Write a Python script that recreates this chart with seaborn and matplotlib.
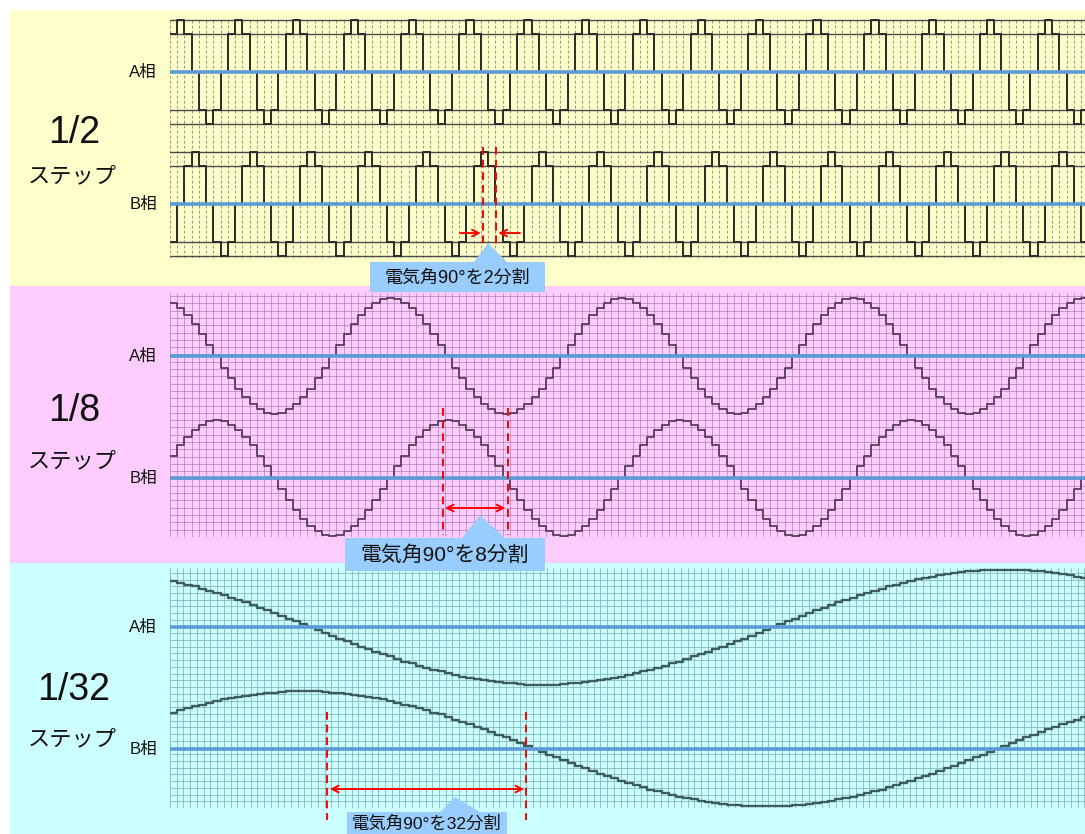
import numpy as np
import pandas as pd
import matplotlib
matplotlib.use("Agg")
import matplotlib.pyplot as plt
from matplotlib.patches import Rectangle, Polygon
import seaborn as sns

W, H = 1085, 834

# A phase over one electrical cycle, half step (8 steps / cycle)
half_step_cycle = [0.74, 1.0, 0.74, 0.0, -0.74, -1.0, -0.74, 0.0]
# quarter wave current levels, 1/8 micro step (90 deg split in 8)
eighth_quarter = [0.0, 0.20, 0.38, 0.56, 0.71, 0.83, 0.92, 0.98, 1.0]
# quarter wave current levels, 1/32 micro step (90 deg split in 32)
thirty_second_quarter = [0.0, 0.05, 0.10, 0.15, 0.20, 0.24, 0.29, 0.34, 0.38,
                         0.43, 0.47, 0.51, 0.56, 0.60, 0.63, 0.67, 0.71, 0.74,
                         0.77, 0.80, 0.83, 0.86, 0.88, 0.90, 0.92, 0.94, 0.96,
                         0.97, 0.98, 0.99, 1.0, 1.0, 1.0]

n_steps = 128
step_labels = ["1/2", "1/8", "1/32"]
phase_labels = ["A相", "B相"]
callout_texts = ["電気角90°を2分割", "電気角90°を8分割", "電気角90°を32分割"]


def full_cycle(quarter):
    q = np.array(quarter)
    half = np.concatenate([q[:-1], q[::-1][:-1]])
    return np.concatenate([half, -half])


def make_frame(cycle, a_shift, b_shift, a_off, b_off):
    k = np.arange(n_steps)
    n = len(cycle)
    rows = []
    for phase, shift, off in [("A相", a_shift, a_off), ("B相", b_shift, b_off)]:
        lv = np.asarray(cycle)[(k - shift) % n]
        rows.append(pd.DataFrame({"step": k, "level": lv, "phase": phase,
                                  "y": lv + off}))
    return pd.concat(rows, ignore_index=True)


panels = [
    dict(df=make_frame(half_step_cycle, 0, 2, 1.27, -1.27),
         px=(170, 18, 1085, 258), ylim=(-2.31, 2.31), offs=(1.27, -1.27),
         color="#2b2b2b", lw=1.4),
    dict(df=make_frame(-full_cycle(eighth_quarter), 6, 14, 1.05, -1.05),
         px=(170, 293, 1085, 537), ylim=(-2.07, 2.14), offs=(1.05, -1.05),
         color="#5a3a5a", lw=1.3),
    dict(df=make_frame(-full_cycle(thirty_second_quarter), 19, 50, 1.06, -1.06),
         px=(170, 568, 1085, 808), ylim=(-2.09, 2.09), offs=(1.06, -1.06),
         color="#3d5c5c", lw=1.7),
]

# red marker positions (step units / level units of each panel)
markers = [
    dict(vx=(43.3, 45.1), vy=(-0.17, -2.06), ay=-1.83, arrows="inward",
         ax0=40.1, ax1=48.4),
    dict(vx=(37.8, 46.7), vy=(0.16, -2.03), ay=-1.57, arrows="both",
         ax0=38.0, ax1=46.4),
    dict(vx=(21.7, 49.2), vy=(-0.42, -2.30), ay=-1.76, arrows="both",
         ax0=22.1, ax1=49.0),
]

sns.set_theme(style="white")
plt.rcParams["font.family"] = ["Liberation Sans", "Noto Sans CJK JP"]

fig = plt.figure(figsize=(W / 100, H / 100), dpi=100)


def px_rect(x0, y0, x1, y1):
    return [x0 / W, 1 - y1 / H, (x1 - x0) / W, (y1 - y0) / H]


# band backgrounds
ax_bg = fig.add_axes([0, 0, 1, 1], zorder=0)
ax_bg.set_xlim(0, W)
ax_bg.set_ylim(H, 0)
ax_bg.axis("off")
for (y0, y1), fc in zip([(10, 286), (286, 563), (563, 834)],
                        ["#ffffcc", "#ffccff", "#ccffff"]):
    ax_bg.add_patch(Rectangle((10, y0), W - 10, y1 - y0, facecolor=fc,
                              edgecolor="none"))

xmax = 915 / 7.23

for i, p in enumerate(panels):
    ax = fig.add_axes(px_rect(*p["px"]), zorder=1)
    ax.set_facecolor("none")
    for s in ax.spines.values():
        s.set_visible(False)
    ax.set_xlim(0, xmax)
    ax.set_ylim(*p["ylim"])
    a_off, b_off = p["offs"]

    if i == 0:
        ax.set_xticks(np.arange(0, 127, 1.0))
        lv = [1.0, 0.74, -0.74, -1.0]
        ax.set_yticks([a_off + v for v in lv] + [b_off + v for v in lv])
        ax.grid(True, axis="x", color="#9a9a80", lw=0.8, ls=(0, (2.5, 2)))
        ax.grid(True, axis="y", color="#4a4a4a", lw=1.0, ls="-")
    elif i == 1:
        ax.set_xticks(np.arange(0, 127, 1.0))
        ax.set_yticks(np.arange(p["ylim"][0], p["ylim"][1], 0.126))
        ax.grid(True, color="#a070a8", lw=0.7, alpha=0.6)
    else:
        ax.set_xticks(np.arange(0, 127, 0.93))
        ax.set_yticks(np.arange(p["ylim"][0], p["ylim"][1], 0.117))
        ax.grid(True, color="#7ab0b0", lw=0.7, alpha=0.75)
    ax.set_axisbelow(True)
    ax.tick_params(length=0, labelbottom=False, labelleft=False)

    for phase, sub in p["df"].groupby("phase"):
        sns.lineplot(data=sub, x="step", y="y", ax=ax, color=p["color"],
                     lw=p["lw"], drawstyle="steps-post", estimator=None,
                     legend=False, zorder=2)
    ax.set_xlabel("")
    ax.set_ylabel("")

    for off in (a_off, b_off):
        ax.axhline(off, color="#5b9bd5", lw=2.6, zorder=3)

    m = markers[i]
    for vx in m["vx"]:
        ax.plot([vx, vx], list(m["vy"]), color="red", lw=1.4,
                ls=(0, (4, 2.5)), clip_on=False, zorder=4)
    aprops = dict(color="red", lw=1.4, shrinkA=0, shrinkB=0)
    if m["arrows"] == "inward":
        ax.annotate("", xy=(m["vx"][0] - 0.3, m["ay"]), xytext=(m["ax0"], m["ay"]),
                    arrowprops=dict(arrowstyle="->", **aprops), annotation_clip=False)
        ax.annotate("", xy=(m["vx"][1] + 0.3, m["ay"]), xytext=(m["ax1"], m["ay"]),
                    arrowprops=dict(arrowstyle="->", **aprops), annotation_clip=False)
    else:
        ax.annotate("", xy=(m["ax0"], m["ay"]), xytext=(m["ax1"], m["ay"]),
                    arrowprops=dict(arrowstyle="<->", **aprops), annotation_clip=False)

# labels and callouts
ax_ov = fig.add_axes([0, 0, 1, 1], zorder=5)
ax_ov.set_xlim(0, W)
ax_ov.set_ylim(H, 0)
ax_ov.axis("off")

label_pos = [(133, 177, 72, 204), (411, 462, 356, 478), (690, 740, 627, 749)]
for lab, (y_big, y_step, y_a, y_b) in zip(step_labels, label_pos):
    ax_ov.text(74, y_big, lab, fontsize=27, ha="center", va="center",
               color="#111111")
    ax_ov.text(72, y_step, "ステップ", fontsize=16, ha="center", va="center",
               color="#111111")
    ax_ov.text(157, y_a, phase_labels[0], fontsize=12, ha="right",
               va="center", color="#111111")
    ax_ov.text(157, y_b, phase_labels[1], fontsize=12, ha="right",
               va="center", color="#111111")

callouts = [
    dict(box=(370, 262, 545, 292), tri=(474, 488, 243, 507), fs=13),
    dict(box=(345, 538, 545, 571), tri=(462, 480, 515, 505), fs=15),
    dict(box=(347, 812, 507, 840), tri=(440, 455, 797, 480), fs=12.5),
]
for c, txt in zip(callouts, callout_texts):
    x0, y0, x1, y1 = c["box"]
    bl, apx, apy, br = c["tri"]
    pts = [(x0, y1), (x0, y0), (bl, y0), (apx, apy), (br, y0), (x1, y0), (x1, y1)]
    ax_ov.add_patch(Polygon(pts, closed=True, facecolor="#99ccff",
                            edgecolor="none"))
    ax_ov.text((x0 + x1) / 2, (y0 + min(y1, H)) / 2 + 1, txt, fontsize=c["fs"],
               ha="center", va="center", color="#111111")

fig.savefig("out.png", dpi=100)
